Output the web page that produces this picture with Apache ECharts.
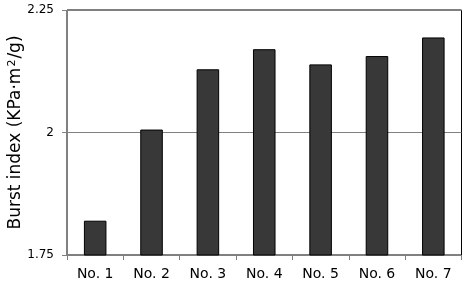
<!DOCTYPE html>
<html><head><meta charset="utf-8">
<script src="https://cdn.jsdelivr.net/npm/echarts@6/dist/echarts.min.js"></script>
<style>html,body{margin:0;padding:0;background:#fff}#c{width:466px;height:285px}</style>
</head><body><div id="c"></div>
<script>
var categories = ['No. 1','No. 2','No. 3','No. 4','No. 5','No. 6','No. 7'];
var burstIndex = [1.82, 2.006, 2.129, 2.170, 2.139, 2.156, 2.194];
var yTicks = [1.75, 2, 2.25];

var chart = echarts.init(document.getElementById('c'), null, {renderer:'canvas'});
chart.setOption({
  animation:false,
  backgroundColor:'#fff',
  grid:{left:67, right:4.5, top:10, bottom:30, show:true, borderColor:'#000', borderWidth:1,
        containLabel:false, outerBoundsMode:'none'},
  xAxis:{
    type:'category', data:categories,
    axisLine:{lineStyle:{color:'#808080', width:1}},
    axisTick:{show:true, length:5, lineStyle:{color:'#808080'}},
    axisLabel:{color:'#000', fontFamily:'DejaVu Sans', fontSize:14, margin:12}
  },
  yAxis:{
    type:'value', min:1.75, max:2.25, interval:0.25,
    name:'Burst index (KPa\u00b7m{sup|2}/g)', nameLocation:'middle', nameGap:42,
    nameMoveOverlap:false,
    nameTextStyle:{color:'#000', fontFamily:'DejaVu Sans', fontSize:17,
      rich:{sup:{color:'#000', fontFamily:'DejaVu Sans', fontSize:11, verticalAlign:'top', padding:[0,1,7,1]}}},
    axisLine:{show:true, lineStyle:{color:'#808080', width:1}},
    axisTick:{show:true, length:5, lineStyle:{color:'#808080'}},
    axisLabel:{color:'#000', fontFamily:'DejaVu Sans', fontSize:12, margin:13,
      formatter:function(v){ var i=yTicks.indexOf(v); return i>=0 ? String(yTicks[i]) : ''; }},
    splitLine:{show:true, lineStyle:{color:'#808080', width:1}}
  },
  series:[{
    type:'bar', data:burstIndex, barWidth:'40%',
    itemStyle:{color:'#383838', borderColor:'#000', borderWidth:1}
  }]
});
</script></body></html>
